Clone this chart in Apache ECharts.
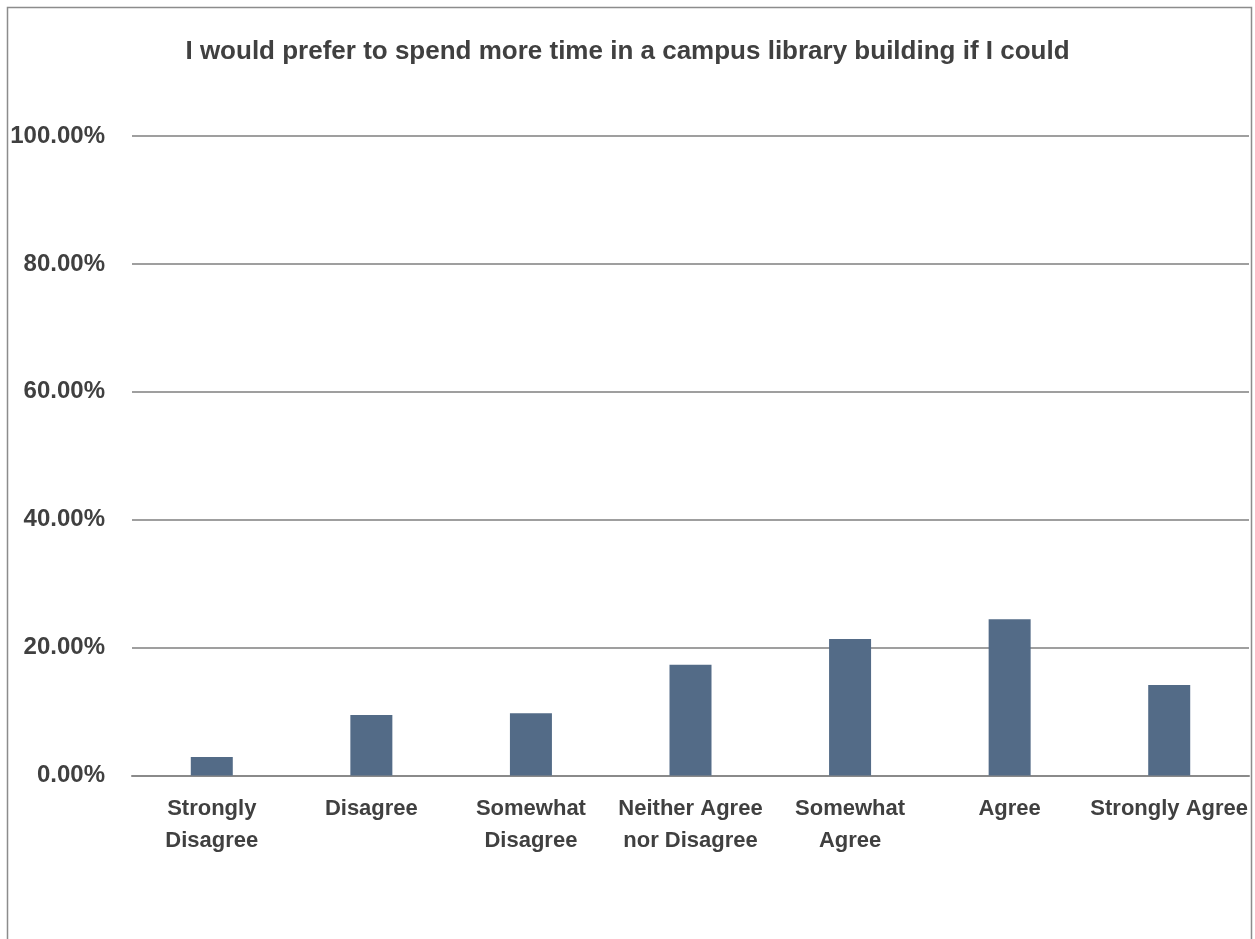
<!DOCTYPE html>
<html>
<head>
<meta charset="utf-8">
<script src="https://cdn.jsdelivr.net/npm/echarts@6/dist/echarts.min.js"></script>
<style>
  html, body { margin: 0; padding: 0; background: #fff; }
  #bar { width: 1255px; height: 939px; }
</style>
</head>
<body>
<div id="bar"></div>
<script>
// 数据
var categories = [
	'Strongly\nDisagree', 'Disagree', 'Somewhat\nDisagree', 'Neither Agree\nnor Disagree',
	'Somewhat\nAgree', 'Agree', 'Strongly Agree'
];
var percents = [2.9, 9.45, 9.75, 17.3, 21.35, 24.45, 14.15];
var yTicks = [0, 20, 40, 60, 80, 100];

var fontNarrow = '"Liberation Sans Narrow", "Arial Narrow", "Liberation Sans", Arial, sans-serif';
var textColor = '#404040';

var myChartBar = echarts.init(document.getElementById('bar'), null, { renderer: 'canvas' });

var option = {
	backgroundColor: '#ffffff',
	animation: false,
	title: {
		text: 'I would prefer to spend more time in a campus library building if I could',
		left: 'center',
		top: 34,
		textStyle: {
			color: textColor,
			fontFamily: fontNarrow,
			fontWeight: 'bold',
			fontSize: 26
		}
	},
	// 外框
	graphic: [
		{
			type: 'rect',
			shape: { x: 7.5, y: 7.5, width: 1244, height: 1000 },
			style: { fill: 'none', stroke: '#8c8c8c', lineWidth: 1.5 },
			silent: true
		}
	],
	grid: {
		left: 132,
		right: 6,
		top: 136,
		bottom: 163.5,
		outerBoundsMode: 'none'
	},
	xAxis: {
		type: 'category',
		data: categories,
		axisTick: { show: false },
		axisLine: {
			lineStyle: { color: '#8a8a8a', width: 2 }
		},
		axisLabel: {
			interval: 0,
			margin: 17,
			color: textColor,
			fontFamily: fontNarrow,
			fontWeight: 'bold',
			fontSize: 22,
			lineHeight: 32
		}
	},
	yAxis: {
		type: 'value',
		min: yTicks[0],
		max: yTicks[yTicks.length - 1],
		interval: yTicks[1] - yTicks[0],
		axisLine: { show: false },
		axisTick: { show: false },
		splitLine: {
			lineStyle: { color: '#7f7f7f', width: 1.5 }
		},
		axisLabel: {
			margin: 27,
			color: textColor,
			fontFamily: fontNarrow,
			fontWeight: 'bold',
			fontSize: 24,
			formatter: function (v) { return v.toFixed(2) + '%'; }
		}
	},
	series: [
		{
			type: 'bar',
			data: percents,
			barWidth: 42,
			itemStyle: { color: '#536b87' }
		}
	]
};

myChartBar.setOption(option);
</script>
</body>
</html>
